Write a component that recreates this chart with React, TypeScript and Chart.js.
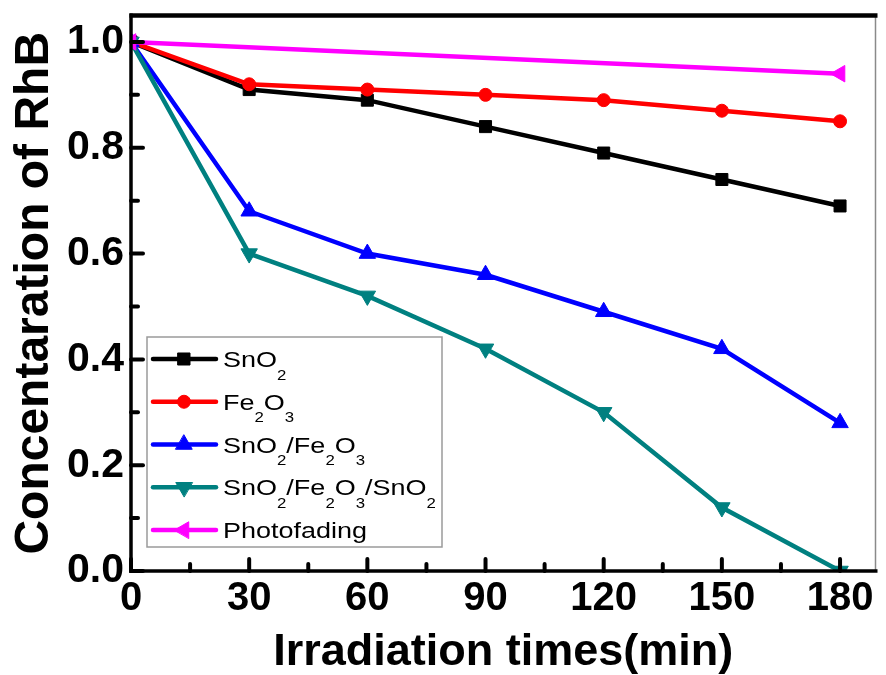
import React, { useEffect, useRef } from 'react';
import { Chart, registerables } from 'chart.js';

Chart.register(...registerables);

// ---- data ----
const times = [0, 30, 60, 90, 120, 150, 180];
const sno2 = [1.0, 0.91, 0.89, 0.84, 0.79, 0.74, 0.69];
const fe2o3 = [1.0, 0.92, 0.91, 0.9, 0.89, 0.87, 0.85];
const sno2Fe2o3 = [1.0, 0.68, 0.6, 0.56, 0.49, 0.42, 0.28];
const sno2Fe2o3Sno2 = [1.0, 0.6, 0.52, 0.42, 0.3, 0.12, 0.0];
const photoTimes = [0, 180];
const photofading = [1.0, 0.94];
const seriesNames = ['SnO_2', 'Fe_2O_3', 'SnO_2/Fe_2O_3', 'SnO_2/Fe_2O_3/SnO_2', 'Photofading'];
const xMajorTicks = [0, 30, 60, 90, 120, 150, 180];
const xMinorTicks = [15, 45, 75, 105, 135, 165];
const yMajorTicks = [0, 0.2, 0.4, 0.6, 0.8, 1.0];
const yMinorTicks = [0.1, 0.3, 0.5, 0.7, 0.9];
const xTitle = 'Irradiation times(min)';
const yTitle = 'Concentaration of RhB';

const FONT = '"Liberation Sans", Arial, Helvetica, sans-serif';

function toPoints(xs: number[], ys: number[]) {
  return xs.map((x, i) => ({ x, y: ys[i] }));
}

function parseLabel(s: string) {
  const out: { t: string; sub: boolean }[] = [];
  let buf = '';
  for (let i = 0; i < s.length; i++) {
    if (s[i] === '_' && i + 1 < s.length) {
      if (buf) out.push({ t: buf, sub: false });
      buf = '';
      out.push({ t: s[i + 1], sub: true });
      i++;
    } else buf += s[i];
  }
  if (buf) out.push({ t: buf, sub: false });
  return out;
}

function drawMarker(ctx: CanvasRenderingContext2D, style: string, r: number, rot: number, x: number, y: number, color: string) {
  ctx.save();
  ctx.fillStyle = color;
  ctx.strokeStyle = color;
  ctx.lineWidth = 1;
  ctx.beginPath();
  if (style === 'rect') {
    const h = Math.SQRT1_2 * r;
    ctx.rect(x - h, y - h, 2 * h, 2 * h);
  } else if (style === 'circle') {
    ctx.arc(x, y, r, 0, Math.PI * 2);
  } else {
    let rad = (rot * Math.PI) / 180;
    ctx.moveTo(x + Math.sin(rad) * r, y - Math.cos(rad) * r);
    rad += (2 * Math.PI) / 3;
    ctx.lineTo(x + Math.sin(rad) * r, y - Math.cos(rad) * r);
    rad += (2 * Math.PI) / 3;
    ctx.lineTo(x + Math.sin(rad) * r, y - Math.cos(rad) * r);
    ctx.closePath();
  }
  ctx.fill();
  ctx.stroke();
  ctx.restore();
}

const framePlugin = {
  id: 'frame',
  afterDatasetsDraw(chart: any) {
    const ctx: CanvasRenderingContext2D = chart.ctx;
    const { left, right, top, bottom } = chart.chartArea;
    const xs = chart.scales.x;
    const ys = chart.scales.y;
    ctx.save();
    ctx.strokeStyle = '#8a8a8a';
    ctx.lineWidth = 1.5;
    ctx.beginPath();
    ctx.moveTo(right, top);
    ctx.lineTo(right, bottom);
    ctx.stroke();
    ctx.strokeStyle = '#000';
    ctx.lineCap = 'butt';
    ctx.lineWidth = 4.5;
    ctx.beginPath();
    ctx.moveTo(left - 1.5, top);
    ctx.lineTo(right + 2, top);
    ctx.stroke();
    ctx.lineWidth = 3.5;
    ctx.beginPath();
    ctx.moveTo(left, top - 2);
    ctx.lineTo(left, bottom + 1.75);
    ctx.stroke();
    ctx.beginPath();
    ctx.moveTo(left - 1.75, bottom);
    ctx.lineTo(right + 2, bottom);
    ctx.stroke();
    ctx.lineWidth = 4;
    ctx.lineCap = 'round';
    const tick = (x1: number, y1: number, x2: number, y2: number) => {
      ctx.beginPath();
      ctx.moveTo(x1, y1);
      ctx.lineTo(x2, y2);
      ctx.stroke();
    };
    xMajorTicks.forEach((v) => {
      const px = xs.getPixelForValue(v);
      tick(px, bottom, px, bottom - 12);
    });
    xMinorTicks.forEach((v) => {
      const px = xs.getPixelForValue(v);
      tick(px, bottom, px, bottom - 7);
    });
    yMajorTicks.forEach((v) => {
      const py = ys.getPixelForValue(v);
      tick(left, py, left + 12, py);
    });
    yMinorTicks.forEach((v) => {
      const py = ys.getPixelForValue(v);
      tick(left, py, left + 7, py);
    });
    ctx.restore();
  },
};

const legendPlugin = {
  id: 'customLegend',
  afterDraw(chart: any) {
    const ctx: CanvasRenderingContext2D = chart.ctx;
    const bx = 147, by = 337, bw = 295, bh = 210;
    ctx.save();
    ctx.fillStyle = '#fff';
    ctx.fillRect(bx, by, bw, bh);
    ctx.strokeStyle = '#9a9a9a';
    ctx.lineWidth = 1.5;
    ctx.strokeRect(bx, by, bw, bh);
    const stretch = 1.2;
    chart.data.datasets.forEach((ds: any, i: number) => {
      const cy = 359 + i * 42.75;
      ctx.strokeStyle = ds.borderColor;
      ctx.lineWidth = 4.5;
      ctx.lineCap = 'round';
      ctx.beginPath();
      ctx.moveTo(153, cy);
      ctx.lineTo(216, cy);
      ctx.stroke();
      drawMarker(ctx, ds.pointStyle, ds.pointRadius, ds.pointRotation || 0, 184, cy, ds.borderColor);
      const parts = parseLabel(seriesNames[i]);
      ctx.save();
      ctx.translate(223, cy + 8);
      ctx.scale(stretch, 1);
      ctx.fillStyle = '#000';
      ctx.textBaseline = 'alphabetic';
      ctx.textAlign = 'left';
      let x = 0;
      parts.forEach((p) => {
        if (p.sub) {
          ctx.font = `14px ${FONT}`;
          ctx.fillText(p.t, x, 12.5);
        } else {
          ctx.font = `22.5px ${FONT}`;
          ctx.fillText(p.t, x, 0);
        }
        x += ctx.measureText(p.t).width;
      });
      ctx.restore();
    });
    ctx.restore();
  },
};

export default function App() {
  const ref = useRef<HTMLCanvasElement | null>(null);
  useEffect(() => {
    if (!ref.current) return;
    const mk = (label: string, xs: number[], ys: number[], color: string, style: string, radius: number, rotation: number, order: number) => ({
      label,
      data: toPoints(xs, ys),
      borderColor: color,
      backgroundColor: color,
      pointBackgroundColor: color,
      pointBorderColor: color,
      pointBorderWidth: 1,
      pointStyle: style,
      pointRadius: radius,
      pointRotation: rotation,
      borderWidth: 4.5,
      tension: 0,
      fill: false,
      clip: 0,
      order,
    });
    const chart = new Chart(ref.current, {
      type: 'line',
      data: {
        datasets: [
          mk(seriesNames[0], times, sno2, '#000000', 'rect', 8.5, 0, 4),
          mk(seriesNames[1], times, fe2o3, '#ff0000', 'circle', 6.5, 0, 3),
          mk(seriesNames[2], times, sno2Fe2o3, '#0000ff', 'triangle', 9.5, 0, 2),
          mk(seriesNames[3], times, sno2Fe2o3Sno2, '#008080', 'triangle', 9.5, 180, 1),
          mk(seriesNames[4], photoTimes, photofading, '#ff00ff', 'triangle', 9.5, -90, 0),
        ] as any,
      },
      options: {
        animation: false,
        responsive: false,
        devicePixelRatio: 1,
        layout: { padding: { left: 0, top: 15.5, right: 3, bottom: 0 } },
        plugins: { legend: { display: false }, tooltip: { enabled: false } },
        scales: {
          x: {
            type: 'linear',
            min: 0,
            max: 189,
            afterBuildTicks: (s: any) => {
              s.ticks = xMajorTicks.map((v) => ({ value: v }));
            },
            afterFit: (s: any) => {
              s.height = 104;
              s.paddingLeft = 0;
              s.paddingRight = 0;
            },
            grid: { display: false, drawTicks: false },
            border: { display: false },
            ticks: {
              color: '#000',
              padding: 4,
              maxRotation: 0,
              autoSkip: false,
              font: { family: FONT, size: 40, weight: 'bold' },
              callback: (v: any) => String(v),
            },
            title: {
              display: true,
              text: xTitle,
              color: '#000',
              padding: { top: 0, bottom: 0 },
              font: { family: FONT, size: 45, weight: 'bold', lineHeight: 1 },
            },
          },
          y: {
            type: 'linear',
            min: 0,
            max: 1.05,
            afterBuildTicks: (s: any) => {
              s.ticks = yMajorTicks.map((v) => ({ value: v }));
            },
            afterFit: (s: any) => {
              s.width = 131;
              s.paddingTop = 0;
              s.paddingBottom = 0;
            },
            grid: { display: false, drawTicks: false },
            border: { display: false },
            ticks: {
              color: '#000',
              padding: 7,
              autoSkip: false,
              font: { family: FONT, size: 41, weight: 'bold' },
              callback: (v: any) => Number(v).toFixed(1),
            },
            title: {
              display: true,
              text: yTitle,
              color: '#000',
              padding: { top: 11, bottom: 0 },
              font: { family: FONT, size: 48, weight: 'bold', lineHeight: 1 },
            },
          },
        },
      } as any,
      plugins: [framePlugin, legendPlugin],
    });
    return () => chart.destroy();
  }, []);
  return (
    <canvas
      ref={ref}
      width={886}
      height={675}
      style={{ position: 'absolute', left: 0, top: 0, width: 886, height: 675, background: '#fff' }}
    />
  );
}
